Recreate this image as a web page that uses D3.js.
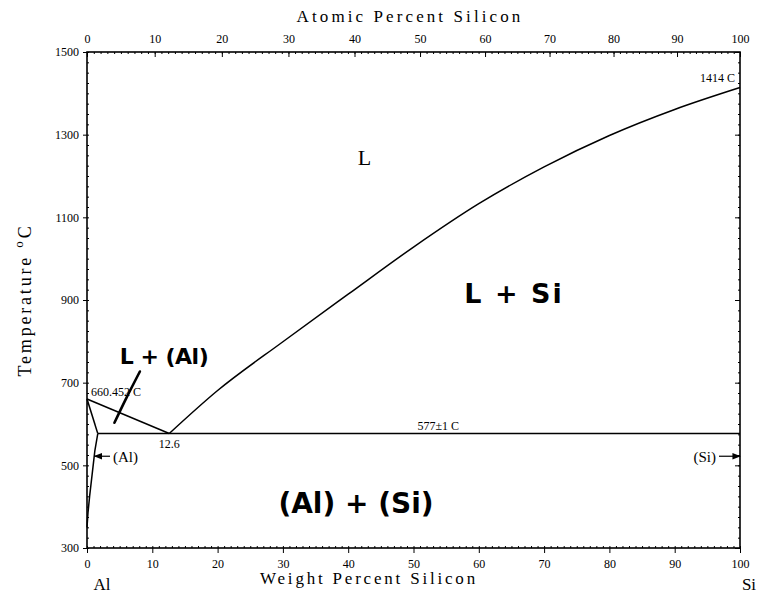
<!DOCTYPE html>
<html>
<head>
<meta charset="utf-8">
<script src="https://cdn.jsdelivr.net/npm/d3@7"></script>
<style>
  body { margin: 0; background: #fff; }
  svg { display: block; }
</style>
</head>
<body>
<svg id="chart" width="770" height="595"></svg>
<script>
// axis ticks
let weightTicks = [0, 10, 20, 30, 40, 50, 60, 70, 80, 90, 100];
let atomicTicks = [0, 10, 20, 30, 40, 50, 60, 70, 80, 90, 100];
let tempTicks = [300, 500, 700, 900, 1100, 1300, 1500];

// phase boundaries, [wt% Si, temperature C]
let liquidusAl = [[0, 660.452], [12.6, 577]];
let liquidusSi = [[12.6, 577], [20, 681], [30, 799], [40, 914], [50, 1028],
  [60, 1133], [70, 1222], [80, 1298], [90, 1361], [100, 1414]];
let solidusAl = [[0, 660.452], [1.65, 577]];
let solvusAl = [[1.65, 577], [1.2, 535], [0.8, 480], [0.4, 425], [0.15, 385], [0, 350]];
let eutectic = [[1.65, 577], [100, 577]];
// hand drawn stroke in the L+(Al) field
let penStroke = [[4.2, 603], [6.0, 662], [8.1, 727]];

let svg = d3.select("#chart");
let plotLeft = 87, plotRight = 740, plotTop = 52, plotBottom = 548;
let serif = "Liberation Serif";
let hand = "DejaVu Sans";

let x = d3.scaleLinear().domain([0, 100]).range([plotLeft, plotRight]);
let y = d3.scaleLinear().domain([300, 1500]).range([plotBottom, plotTop]);

// atomic % Si -> weight % Si
function atToWt(a) {
  return 100 * a * 28.0855 / (a * 28.0855 + (100 - a) * 26.9815);
}

let line = d3.line().x(d => x(d[0])).y(d => y(d[1]));

// frame
svg.append("rect")
  .attr("x", plotLeft).attr("y", plotTop)
  .attr("width", plotRight - plotLeft).attr("height", plotBottom - plotTop)
  .style("fill", "none").style("stroke", "#000").style("stroke-width", 1.6);

// bottom axis
let bottomAxis = svg.append("g").attr("transform", "translate(0," + plotBottom + ")");
bottomAxis.call(d3.axisBottom(x).tickValues(weightTicks).tickSize(5).tickPadding(6).tickFormat(d3.format("d")));
bottomAxis.append("g").call(d3.axisTop(x).tickValues(d3.range(0, 101, 1)).tickSize(2).tickFormat(""));

// top axis (atomic %)
let topAxis = svg.append("g").attr("transform", "translate(0," + plotTop + ")");
topAxis.call(d3.axisTop(x).tickValues(atomicTicks.map(atToWt)).tickSize(-5).tickPadding(9)
  .tickFormat((d, i) => atomicTicks[i]));
topAxis.append("g").call(d3.axisBottom(x).tickValues(d3.range(0, 101, 1).map(atToWt)).tickSize(2).tickFormat(""));

// left axis
let leftAxis = svg.append("g").attr("transform", "translate(" + plotLeft + ",0)");
leftAxis.call(d3.axisLeft(y).tickValues(tempTicks).tickSize(4).tickPadding(4).tickFormat(d3.format("d")));
leftAxis.append("g").call(d3.axisRight(y).tickValues(d3.range(300, 1501, 25)).tickSize(2).tickFormat(""));

// right axis
let rightAxis = svg.append("g").attr("transform", "translate(" + plotRight + ",0)");
rightAxis.call(d3.axisLeft(y).tickValues(tempTicks).tickSize(5).tickFormat(""));
rightAxis.append("g").call(d3.axisLeft(y).tickValues(d3.range(300, 1501, 25)).tickSize(2).tickFormat(""));

svg.selectAll(".domain").remove();
svg.selectAll(".tick line").style("stroke", "#000").style("stroke-width", 1);
svg.selectAll(".tick text")
  .style("font-family", serif)
  .style("font-size", "12px")
  .style("fill", "#000");

// phase boundaries
[liquidusAl, solidusAl, solvusAl, eutectic].forEach(function(d) {
  svg.append("path").attr("d", line(d))
    .style("fill", "none").style("stroke", "#000").style("stroke-width", 1.5);
});
svg.append("path").attr("d", line.curve(d3.curveMonotoneX)(liquidusSi))
  .style("fill", "none").style("stroke", "#000").style("stroke-width", 1.5);
line.curve(d3.curveLinear);

// axis titles
svg.append("text")
  .attr("x", 410).attr("y", 22)
  .text("Atomic Percent Silicon")
  .style("font-family", serif).style("font-size", "17px")
  .style("letter-spacing", "3.1px").style("text-anchor", "middle");
svg.append("text")
  .attr("x", 369).attr("y", 584)
  .text("Weight Percent Silicon")
  .style("font-family", serif).style("font-size", "17px")
  .style("letter-spacing", "2.8px").style("text-anchor", "middle");

let yTitle = svg.append("text")
  .attr("transform", "translate(31,300) rotate(-90)")
  .style("font-family", serif).style("font-size", "18px")
  .style("letter-spacing", "2.8px").style("text-anchor", "middle");
yTitle.append("tspan").text("Temperature ");
yTitle.append("tspan").text("o").attr("dy", -8).style("font-size", "13px");
yTitle.append("tspan").text("C").attr("dy", 8);

svg.append("text").attr("x", 102).attr("y", 590).text("Al")
  .style("font-family", serif).style("font-size", "17px").style("text-anchor", "middle");
svg.append("text").attr("x", 749).attr("y", 590).text("Si")
  .style("font-family", serif).style("font-size", "17px").style("text-anchor", "middle");

// point labels
function label(txt, px, py, size, anchor) {
  return svg.append("text").attr("x", px).attr("y", py).text(txt)
    .style("font-family", serif).style("font-size", size + "px")
    .style("text-anchor", anchor || "start").style("fill", "#000");
}
label("660.452 C", x(0) + 4, y(660.452) - 3, 12);
label("12.6", x(12.6), y(577) + 14, 12, "middle");
label("577\u00b11 C", x(53.8), y(577) - 4, 12, "middle");
label("1414 C", x(100) - 5, y(1414) - 6, 12, "end");
label("L", x(42.5), y(1300) + 30, 22, "middle");

// phase labels with arrows
label("(Al)", x(0) + 26, y(520) + 5, 15);
label("(Si)", x(100) - 24, y(520) + 5, 15, "end");

svg.append("defs").append("marker")
  .attr("id", "head").attr("viewBox", "0 0 10 10")
  .attr("refX", 9).attr("refY", 5)
  .attr("markerWidth", 7).attr("markerHeight", 7)
  .attr("orient", "auto")
  .append("path").attr("d", "M0,1L10,5L0,9Z").style("fill", "#000");

svg.append("line")
  .attr("x1", x(0) + 23).attr("y1", y(522))
  .attr("x2", x(1.15)).attr("y2", y(522))
  .style("stroke", "#000").style("stroke-width", 1.2)
  .attr("marker-end", "url(#head)");
svg.append("line")
  .attr("x1", x(100) - 21).attr("y1", y(522))
  .attr("x2", x(100)).attr("y2", y(522))
  .style("stroke", "#000").style("stroke-width", 1.2)
  .attr("marker-end", "url(#head)");

// handwritten region labels
function handLabel(txt, px, py, size, spacing) {
  svg.append("text").attr("x", px).attr("y", py).text(txt)
    .style("font-family", hand).style("font-weight", "bold")
    .style("font-size", size + "px").style("text-anchor", "middle")
    .style("letter-spacing", (spacing || 0) + "px")
    .style("fill", "#000");
}
handLabel("L + (Al)", 164, 364, 22, -0.5);
handLabel("L  +  Si", 514, 303, 27, 2);
handLabel("(Al) + (Si)", 356, 513, 28, 0);

svg.append("path").attr("d", line.curve(d3.curveCatmullRom)(penStroke))
  .style("fill", "none").style("stroke", "#000").style("stroke-width", 2.6)
  .style("stroke-linecap", "round");
</script>
</body>
</html>
